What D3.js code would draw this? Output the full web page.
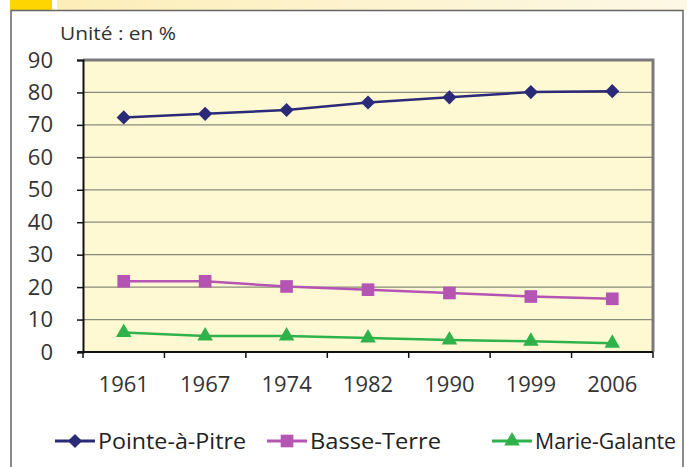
<!DOCTYPE html>
<html><head><meta charset="utf-8">
<script src="https://cdn.jsdelivr.net/npm/d3@7"></script>
<style>body{margin:0;background:#fff}svg{display:block}</style>
</head><body>
<svg id="c" width="687" height="467"></svg>
<script>
const years = ["1961","1967","1974","1982","1990","1999","2006"];
const pointeAPitre = [72.3, 73.4, 74.6, 76.9, 78.5, 80.1, 80.4];
const basseTerre = [21.8, 21.8, 20.2, 19.2, 18.2, 17.1, 16.4];
const marieGalante = [6.0, 4.9, 4.9, 4.3, 3.7, 3.3, 2.7];
const yTicks = [0,10,20,30,40,50,60,70,80,90];
const seriesNames = ["Pointe-à-Pitre","Basse-Terre","Marie-Galante"];

const FONT = "Open Sans, Noto Sans, sans-serif";
const svg = d3.select("#c");
const g0 = svg.append("defs").append("linearGradient").attr("id","strip");
g0.append("stop").attr("offset","0").attr("stop-color","#fdeeb8");
g0.append("stop").attr("offset","1").attr("stop-color","#fdf8e6");
svg.append("rect").attr("x",10).attr("y",0).attr("width",42).attr("height",10).attr("fill","#ffd500");
svg.append("rect").attr("x",57).attr("y",0).attr("width",630).attr("height",10).attr("fill","url(#strip)");
svg.append("rect").attr("x",11).attr("y",10.5).attr("width",672).attr("height",470)
  .attr("fill","#fff").attr("stroke","#666").attr("stroke-width",1.5);

const m = {l:83, r:653, t:60, b:352};
const x = d3.scaleBand().domain(years).range([m.l,m.r]);
const y = d3.scaleLinear().domain([0,90]).range([m.b,m.t]);

svg.append("text").attr("x",60).attr("y",40).attr("font-family",FONT).attr("font-weight",400)
  .attr("font-size",18).attr("fill","#333").attr("textLength",116).attr("lengthAdjust","spacingAndGlyphs").text("Unité : en %");

svg.append("rect").attr("x",m.l).attr("y",m.t).attr("width",m.r-m.l).attr("height",m.b-m.t).attr("fill","#fef9d2");
svg.append("g").selectAll("line").data(yTicks.filter(d=>d>0 && d<90)).join("line")
  .attr("x1",m.l).attr("x2",m.r).attr("y1",d=>y(d)).attr("y2",d=>y(d))
  .attr("stroke","#8a8a7a").attr("stroke-width",1.2);
svg.append("path").attr("d",`M${m.l},${m.t}H${m.r}V${m.b}`).attr("fill","none")
  .attr("stroke","#7a7a7a").attr("stroke-width",3);

const ya = svg.append("g").attr("transform",`translate(${m.l},0)`)
  .call(d3.axisLeft(y).tickValues(yTicks).tickSize(6).tickPadding(24));
ya.select(".domain").attr("stroke","#111").attr("stroke-width",2);
ya.selectAll(".tick line").attr("stroke","#111").attr("stroke-width",1.5);
ya.selectAll("text").attr("font-family",FONT).attr("font-weight",400).attr("font-size",22).attr("fill","#333");

const xa = svg.append("g").attr("transform",`translate(0,${m.b})`)
  .call(d3.axisBottom(x).tickSize(0).tickPadding(24));
xa.select(".domain").attr("stroke","#111").attr("stroke-width",2).attr("d",`M${m.l-5},0H${m.r}`);
xa.selectAll("text").attr("font-family",FONT).attr("font-weight",400).attr("font-size",22).attr("fill","#333");
svg.append("g").selectAll("line").data(years.map((d,i)=>i).concat([years.length])).join("line")
  .attr("x1",i=>m.l+i*x.step()).attr("x2",i=>m.l+i*x.step())
  .attr("y1",m.b).attr("y2",m.b+6).attr("stroke","#111").attr("stroke-width",1.5);

const series = [
  {name:seriesNames[0], vals:pointeAPitre, color:"#2b2a78", sym:d3.symbolSquare, size:100, rot:45, tl:148},
  {name:seriesNames[1], vals:basseTerre, color:"#b455b4", sym:d3.symbolSquare, size:160, rot:0, tl:131},
  {name:seriesNames[2], vals:marieGalante, color:"#2fb24a", sym:d3.symbolTriangle, size:105, rot:0, tl:141},
];
const cx = d => x(d)+x.bandwidth()/2;
const line = d3.line().x((d,i)=>cx(years[i])).y(d=>y(d));
series.forEach(s=>{
  svg.append("path").datum(s.vals).attr("d",line).attr("fill","none").attr("stroke",s.color).attr("stroke-width",2.5);
  svg.append("g").selectAll("path").data(s.vals).join("path")
    .attr("d",d3.symbol(s.sym,s.size))
    .attr("transform",(d,i)=>`translate(${cx(years[i])},${y(d)}) rotate(${s.rot})`)
    .attr("fill",s.color);
});

const legX = [55, 267, 492];
series.forEach((s,i)=>{
  const g = svg.append("g").attr("transform",`translate(${legX[i]},441)`);
  g.append("line").attr("x1",0).attr("x2",40).attr("stroke",s.color).attr("stroke-width",3);
  g.append("path").attr("d",d3.symbol(s.sym,s.size)).attr("transform",`translate(20,0) rotate(${s.rot})`).attr("fill",s.color);
  g.append("text").attr("x",43).attr("y",8).attr("font-family",FONT).attr("font-weight",400)
    .attr("font-size",22).attr("fill","#222").attr("textLength",s.tl).attr("lengthAdjust","spacingAndGlyphs").text(s.name);
});
</script>
</body></html>
